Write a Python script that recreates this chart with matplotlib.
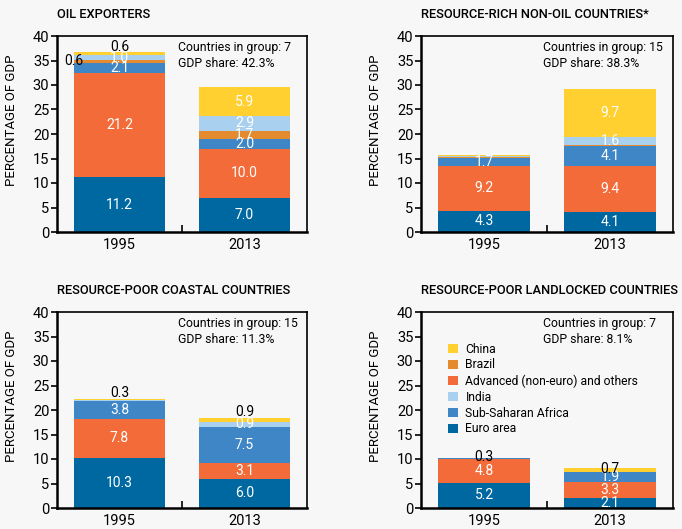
import matplotlib.pyplot as plt

plt.rcParams['font.family'] = ['Roboto', 'DejaVu Sans']

# data (percentage of GDP), one entry per group: [1995, 2013]
groups = ["OIL EXPORTERS", "RESOURCE-RICH NON-OIL COUNTRIES*",
          "RESOURCE-POOR COASTAL COUNTRIES", "RESOURCE-POOR LANDLOCKED COUNTRIES"]
n_countries = [7, 15, 15, 7]
gdp_share = [42.3, 38.3, 11.3, 8.1]
years = ["1995", "2013"]

euro_area = [[11.2, 7.0], [4.3, 4.1], [10.3, 6.0], [5.2, 2.1]]
advanced = [[21.2, 10.0], [9.2, 9.4], [7.8, 3.1], [4.8, 3.3]]
ssa = [[2.1, 2.0], [1.7, 4.1], [3.8, 7.5], [0.3, 1.9]]
brazil = [[0.6, 1.7], [0.2, 0.2], [0.0, 0.0], [0.0, 0.0]]
india = [[1.0, 2.9], [0.2, 1.6], [0.1, 0.9], [0.0, 0.1]]
china = [[0.6, 5.9], [0.2, 9.7], [0.3, 0.9], [0.0, 0.7]]

series = [("Euro area", euro_area, "#0068a1"),
          ("Advanced (non-euro) and others", advanced, "#f26b38"),
          ("Sub-Saharan Africa", ssa, "#3e86c5"),
          ("Brazil", brazil, "#e48a2f"),
          ("India", india, "#a9d0ef"),
          ("China", china, "#ffd02f")]
legend_order = ["China", "Brazil", "Advanced (non-euro) and others",
                "India", "Sub-Saharan Africa", "Euro area"]

# labels that are not white-in-the-middle: (group, bar, series name) -> mode
special = {(0, 0, "Brazil"): "left", (0, 0, "China"): "above",
           (2, 0, "China"): "above", (2, 1, "China"): "above",
           (3, 0, "Sub-Saharan Africa"): "dark", (3, 1, "China"): "dark"}

bg = "#f7f7f7"
fs_val = 10
fig = plt.figure(figsize=(6.82, 5.29), dpi=100, facecolor=bg)

# axes rectangles in pixels: left, bottom (0-line), right
rects = [(57, 232, 307), (421, 232, 673), (57, 508, 307), (421, 508, 673)]

for g, (l, b, r) in enumerate(rects):
    ax = fig.add_axes([l / 682, (529 - b) / 529, (r - l) / 682, 196 / 529])
    ax.set_facecolor(bg)
    x = [0, 1]
    bottoms = [0.0, 0.0]
    for name, vals, col in series:
        v = vals[g]
        ax.bar(x, v, width=0.73, bottom=bottoms, color=col, label=name)
        for i in range(2):
            if v[i] >= 0.3:
                mode = special.get((g, i, name), "in")
                txt = f"{v[i]:.1f}"
                yc = bottoms[i] + v[i] / 2
                if mode == "in":
                    ax.text(x[i], yc, txt, color="white", ha="center",
                            va="center", fontsize=fs_val)
                elif mode == "dark":
                    ax.text(x[i], yc + 0.2, txt, color="black", ha="center",
                            va="center", fontsize=fs_val)
                elif mode == "left":
                    ax.text(x[i] - 0.365, yc, txt, color="black", ha="center",
                            va="center", fontsize=fs_val)
            bottoms[i] += v[i]
    # labels above the bar
    for (gg, i, name), mode in special.items():
        if gg == g and mode == "above":
            v = dict((s[0], s[1]) for s in series)[name][g][i]
            ax.annotate(f"{v:.1f}", (x[i], bottoms[i]), xytext=(0, -1),
                        textcoords="offset points", ha="center", va="bottom",
                        fontsize=fs_val, color="black")

    ax.set_xlim(-0.5, 1.5)
    ax.set_ylim(0, 40)
    ax.set_yticks(range(0, 41, 5))
    ax.set_xticks(x)
    ax.set_xticklabels(years, fontsize=10.5)
    ax.set_xticks([0.5], minor=True)
    ax.tick_params(axis="x", which="major", length=0, pad=4)
    ax.tick_params(axis="x", which="minor", direction="in", length=5, width=1.2)
    ax.tick_params(axis="y", direction="out", length=4, width=1.2, labelsize=10.5, pad=1.5)
    for s in ax.spines.values():
        s.set_linewidth(1.2)
    ax.spines["left"].set_linewidth(1.8)
    ax.spines["bottom"].set_linewidth(1.8)

    ax.set_ylabel("PERCENTAGE OF GDP", fontsize=9.5)
    ax.yaxis.set_label_coords(-0.155, 0.57)
    ax.text(0.0, 1.11, groups[g], transform=ax.transAxes, fontsize=9.3,
            fontweight="medium", ha="left", va="center")
    ax.text(0.484, 0.975, f"Countries in group: {n_countries[g]}\nGDP share: {gdp_share[g]}%",
            transform=ax.transAxes, fontsize=8.8, ha="left", va="top",
            linespacing=1.3)

    if g == 3:
        h, lab = ax.get_legend_handles_labels()
        hd = dict(zip(lab, h))
        ax.legend([hd[n] for n in legend_order], legend_order, loc="upper left",
                  bbox_to_anchor=(0.085, 0.875), frameon=False, fontsize=8.7,
                  handlelength=0.8, handleheight=0.8, handletextpad=0.6,
                  labelspacing=0.24, borderpad=0)

fig.savefig("out.png", dpi=100, facecolor=bg)
